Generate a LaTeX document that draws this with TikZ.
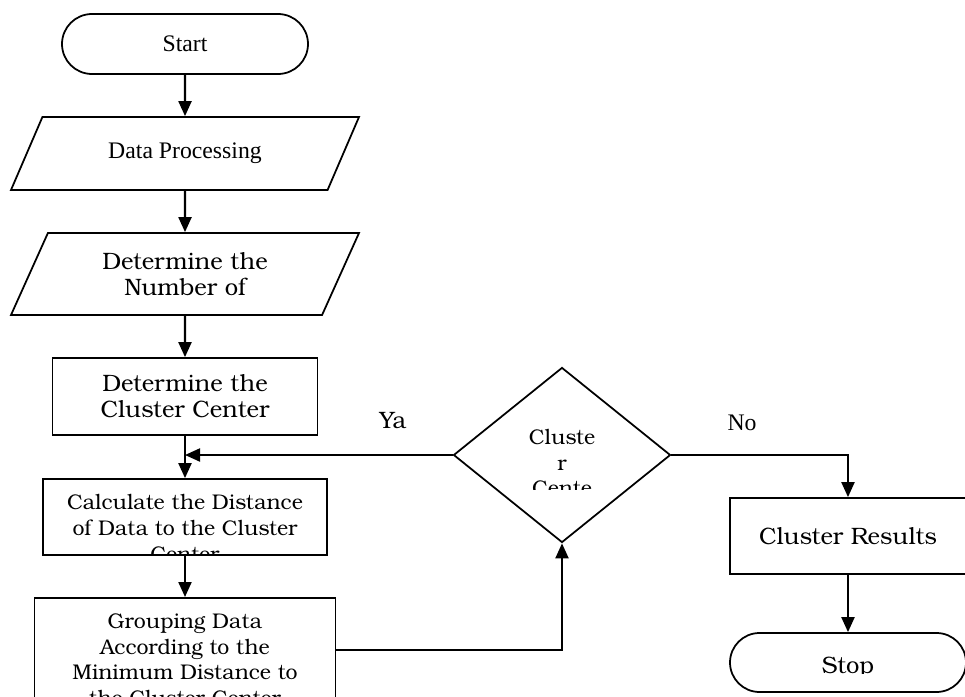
\documentclass[tikz,border=0pt]{standalone}
\usepackage{fontspec}
\setmainfont{Liberation Serif}
\newfontfamily\bkfont{TeX Gyre Bonum}
\usetikzlibrary{shapes.geometric,arrows.meta}

\begin{document}
\begin{tikzpicture}[
  every node/.style={font=\fontsize{13.5}{15}\selectfont, align=center},
  booktext/.style={inner sep=0pt, font=\bkfont\fontsize{13.5}{14.8}\selectfont},
  smalltext/.style={inner sep=0pt, font=\bkfont\fontsize{12.1}{14.6}\selectfont},
  terminal/.style={draw, line width=1pt, rectangle, rounded corners=0.6cm,
    minimum width=4.92cm, minimum height=1.2cm},
  io/.style={draw, line width=1pt, trapezium, trapezium stretches body,
    minimum width=6.96cm},
  process/.style={draw, line width=1pt, rectangle, booktext},
  decision/.style={draw, line width=1pt, diamond, minimum width=4.34cm,
    minimum height=3.5cm, inner sep=0pt},
  line/.style={line width=1.2pt, -{Triangle[length=0.3cm,width=0.26cm]}}
]
  \useasboundingbox (0,0) rectangle (19.3,-13.94);

  % left column
  \node[terminal] (start) at (3.7,-0.88) {Start};
  \node[io, trapezium left angle=46, trapezium right angle=134,
    minimum height=1.46cm] (prep) at (3.7,-3.07) {Data Processing};
  \node[io, booktext, trapezium left angle=49.5, trapezium right angle=130.5,
    minimum height=1.64cm] (num) at (3.7,-5.48) {Determine the\\Number of};
  \node[process, minimum width=5.3cm, minimum height=1.54cm] (cc)
    at (3.7,-7.93) {Determine the\\Cluster Center};
  \node[process, minimum width=5.68cm, minimum height=1.52cm] (calc)
    at (3.7,-10.34) {};
  \begin{scope}
    \clip (calc.south west) rectangle (calc.north east);
    \node[smalltext, anchor=north] (calctext) at ([yshift=-0.32cm]calc.north)
      {Calculate the Distance\\of Data to the Cluster\\Center};
  \end{scope}
  \node[process, smalltext, minimum width=6.02cm, inner ysep=0.32cm, anchor=north] (grp)
    at (3.7,-11.94) {Grouping Data\\According to the\\Minimum Distance to\\the Cluster Center};

  % decision
  \node[decision] (dec) at (11.24,-9.1) {};
  \begin{scope}
    \clip ([shift={(-1.2,-0.68)}]dec.center) rectangle ([shift={(1.2,0.8)}]dec.center);
    \node[smalltext, anchor=north] (dectext) at ([yshift=0.52cm]dec.center)
      {Cluste\\r\\Cente};
  \end{scope}
  \node[booktext] (ya) at (7.86,-8.42) {Ya};
  \node (no) at (14.84,-8.46) {No};

  % right column
  \node[process, minimum width=4.72cm, minimum height=1.52cm] (res)
    at (16.96,-10.72) {Cluster Results};
  \node[terminal, minimum width=4.72cm, minimum height=1.18cm,
    rounded corners=0.59cm] (stop) at (16.96,-13.25) {};
  \begin{scope}
    \clip (stop.north west) rectangle ([yshift=-0.82cm]stop.north east);
    \node[booktext, anchor=north] (stoptext) at ([yshift=-0.5cm]stop.north) {Stop};
  \end{scope}

  % connectors
  \draw[line] (start) -- (prep);
  \draw[line] (prep) -- (num);
  \draw[line] (num) -- (cc);
  \draw[line] (cc) -- (calc);
  \draw[line] (calc) -- (grp);
  \draw[line] ([yshift=-1.06cm]grp.north east) -| (dec.south);
  \draw[line] (dec.west) -- (dec.west -| cc.south);
  \draw[line] (dec.east) -| (res.north);
  \draw[line] (res) -- (stop);
\end{tikzpicture}
\end{document}
